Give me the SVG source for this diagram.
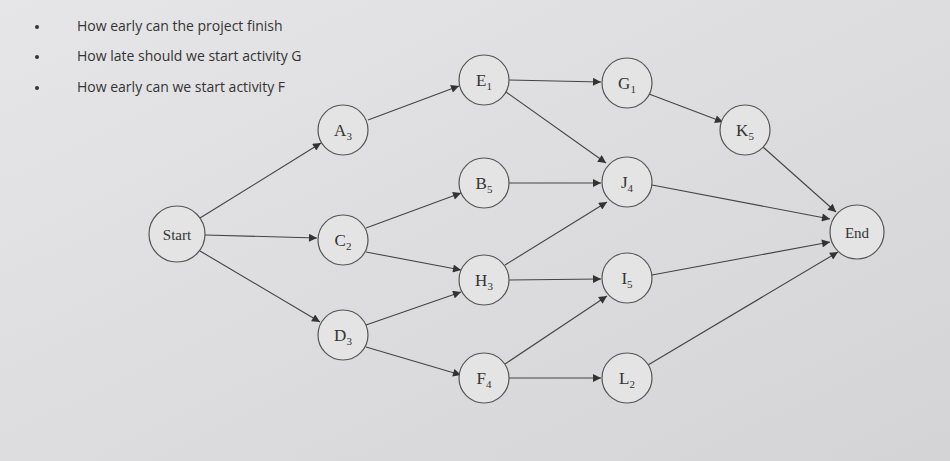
<svg xmlns="http://www.w3.org/2000/svg" width="950" height="461" viewBox="0 0 950 461">
<defs>
<linearGradient id="bg" x1="0" y1="0" x2="1" y2="1"><stop offset="0" stop-color="#e6e6e8"/><stop offset="1" stop-color="#d4d4d6"/></linearGradient>
<marker id="ar" viewBox="0 0 10 10" refX="10" refY="5" markerWidth="10" markerHeight="8" orient="auto" markerUnits="userSpaceOnUse"><path d="M0,0L10,5L0,10z" fill="#333"/></marker>
</defs>
<style>
.n circle{fill:#e4e4e4;stroke:#555;stroke-width:1.2}
.n text{font-family:"Liberation Serif",serif;font-size:17px;fill:#333;text-anchor:middle}
.s{font-size:11px}
#edges line{stroke:#444;stroke-width:1.1;marker-end:url(#ar)}
.q{font-family:"Open Sans","Liberation Sans",sans-serif;font-size:14px;fill:#333}
</style>
<rect width="950" height="461" fill="url(#bg)"/>
<g id="text">
<circle cx="37" cy="27" r="2" fill="#333"/><circle cx="37" cy="57" r="2" fill="#333"/><circle cx="37" cy="88" r="2" fill="#333"/>
<text class="q" x="77" y="31">How early can the project finish</text>
<text class="q" x="77" y="61">How late should we start activity G</text>
<text class="q" x="77" y="92">How early can we start  activity F</text>
</g>
<g id="edges">
<line x1="200" y1="218" x2="321" y2="143"/>
<line x1="205" y1="235" x2="317" y2="238"/>
<line x1="200" y1="251" x2="320" y2="322"/>
<line x1="368" y1="120" x2="459" y2="86"/>
<line x1="366" y1="228" x2="461" y2="193"/>
<line x1="366" y1="252" x2="461" y2="270"/>
<line x1="366" y1="325" x2="461" y2="292"/>
<line x1="366" y1="347" x2="461" y2="375"/>
<line x1="509" y1="80" x2="601" y2="82"/>
<line x1="506" y1="92" x2="606" y2="163"/>
<line x1="509" y1="183" x2="601" y2="183"/>
<line x1="505" y1="265" x2="607" y2="202"/>
<line x1="509" y1="280" x2="601" y2="279"/>
<line x1="505" y1="364" x2="607" y2="296"/>
<line x1="509" y1="378" x2="601" y2="378"/>
<line x1="649" y1="94" x2="723" y2="122"/>
<line x1="763" y1="147" x2="836" y2="212"/>
<line x1="652" y1="185" x2="830" y2="219"/>
<line x1="652" y1="275" x2="830" y2="242"/>
<line x1="648" y1="365" x2="838" y2="252"/>
</g>
<g id="Start" class="n"><circle cx="177" cy="234" r="28"/><text x="177" y="240" style="font-size:15px">Start</text></g>
<g id="A" class="n"><circle cx="343" cy="130" r="25"/><text x="343" y="136">A<tspan class="s" dy="4">3</tspan></text></g>
<g id="C" class="n"><circle cx="343" cy="240" r="25"/><text x="343" y="246">C<tspan class="s" dy="4">2</tspan></text></g>
<g id="D" class="n"><circle cx="343" cy="335" r="25"/><text x="343" y="341">D<tspan class="s" dy="4">3</tspan></text></g>
<g id="E" class="n"><circle cx="484" cy="80" r="25"/><text x="484" y="86">E<tspan class="s" dy="4">1</tspan></text></g>
<g id="B" class="n"><circle cx="484" cy="183" r="25"/><text x="484" y="189">B<tspan class="s" dy="4">5</tspan></text></g>
<g id="H" class="n"><circle cx="484" cy="280" r="25"/><text x="484" y="286">H<tspan class="s" dy="4">3</tspan></text></g>
<g id="F" class="n"><circle cx="484" cy="378" r="25"/><text x="484" y="384">F<tspan class="s" dy="4">4</tspan></text></g>
<g id="G" class="n"><circle cx="627" cy="83" r="25"/><text x="627" y="89">G<tspan class="s" dy="4">1</tspan></text></g>
<g id="J" class="n"><circle cx="627" cy="182" r="25"/><text x="627" y="188">J<tspan class="s" dy="4">4</tspan></text></g>
<g id="I" class="n"><circle cx="627" cy="278" r="25"/><text x="627" y="284">I<tspan class="s" dy="4">5</tspan></text></g>
<g id="L" class="n"><circle cx="627" cy="378" r="25"/><text x="627" y="384">L<tspan class="s" dy="4">2</tspan></text></g>
<g id="K" class="n"><circle cx="745" cy="130" r="25"/><text x="745" y="136">K<tspan class="s" dy="4">5</tspan></text></g>
<g id="End" class="n"><circle cx="857" cy="232" r="27"/><text x="857" y="238" style="font-size:15px">End</text></g>
</svg>
